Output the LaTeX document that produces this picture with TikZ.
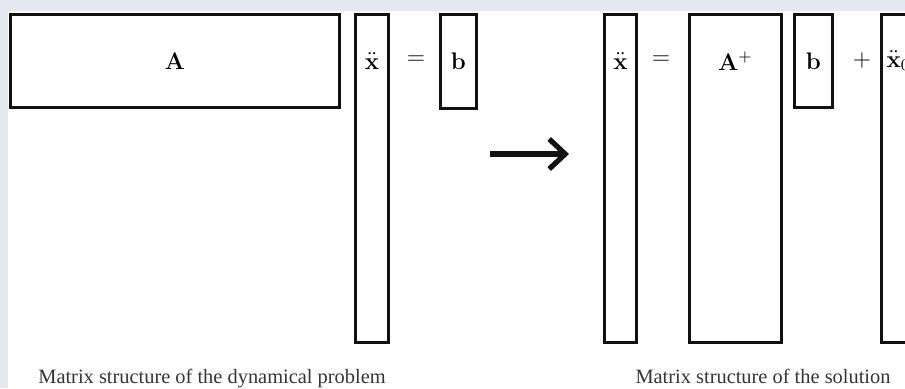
\documentclass[tikz,border=0pt]{standalone}
\usepackage[no-math]{fontspec}
\setmainfont{Liberation Serif}
\usepackage{tikz}
\usetikzlibrary{arrows.meta,calc,positioning}
\definecolor{Frame}{HTML}{E6E8F1}
\definecolor{Ink}{HTML}{111111}

\begin{document}
\begin{tikzpicture}[
  x=0.5pt,y=-0.5pt,
  mat/.style={draw=Ink,fill=white,line width=1.4pt,inner sep=0pt,anchor=north west},
  tall/.style={mat,minimum height=164pt},
  lbl/.style={inner sep=1pt,font=\large},
  captxt/.style={inner sep=0pt,anchor=base,font=\fontsize{10.2}{12}\selectfont,text=Ink!85},
  bigarr/.style={-{Straight Barb[length=8pt,width=15pt]},draw=Ink,line width=2.6pt}
]
  \path[use as bounding box,clip] (0,0) rectangle (905,388);
  \fill[Frame] (0,0) rectangle (905,388);
  \fill[white] (8,11) rectangle (905,388);

  % dynamical problem
  \node[mat,minimum width=164.5pt,minimum height=46.5pt] (A) at (9,13) {};
  \node[tall,minimum width=16.5pt] (xL) at (354,13) {};
  \node[mat,minimum width=18pt,minimum height=47pt] (bL) at (439,13) {};

  \node[lbl] (Al) at (A.center) {$\mathbf{A}$};
  \node[lbl] (xLl) at (xL |- A) {$\ddot{\mathbf{x}}$};
  \node[lbl] (eqL) at (416,60) {$=$};
  \node[lbl] (bLl) at (bL.center) {$\mathbf{b}$};

  % arrow
  \coordinate (arrS) at (490,154);
  \coordinate (arrE) at (569,154);
  \draw[bigarr] (arrS) -- (arrE);

  % solution
  \node[tall,minimum width=16pt] (xR) at (603,13) {};
  \node[tall,minimum width=46pt] (Ap) at (688,13) {};
  \node[mat,minimum width=19pt,minimum height=46.5pt] (bR) at (793,13) {};
  \node[tall,minimum width=17pt] (x0) at (880,13) {};

  \node[lbl] (xRl) at (xR |- A) {$\ddot{\mathbf{x}}$};
  \node[lbl] (eqR) at (661,60) {$=$};
  \node[lbl] (Apl) at (Ap |- A) {$\mathbf{A}^{+}$};
  \node[lbl] (bRl) at (bR.center) {$\mathbf{b}$};
  \node[lbl] (plus) at (862,60) {$+$};
  \node[lbl] (x0l) at (x0 |- A) {$\ddot{\mathbf{x}}_0$};

  \node[captxt] (capL) at (212,383) {Matrix structure of the dynamical problem};
  \node[captxt] (capR) at (763,383) {Matrix structure of the solution};
\end{tikzpicture}
\end{document}
